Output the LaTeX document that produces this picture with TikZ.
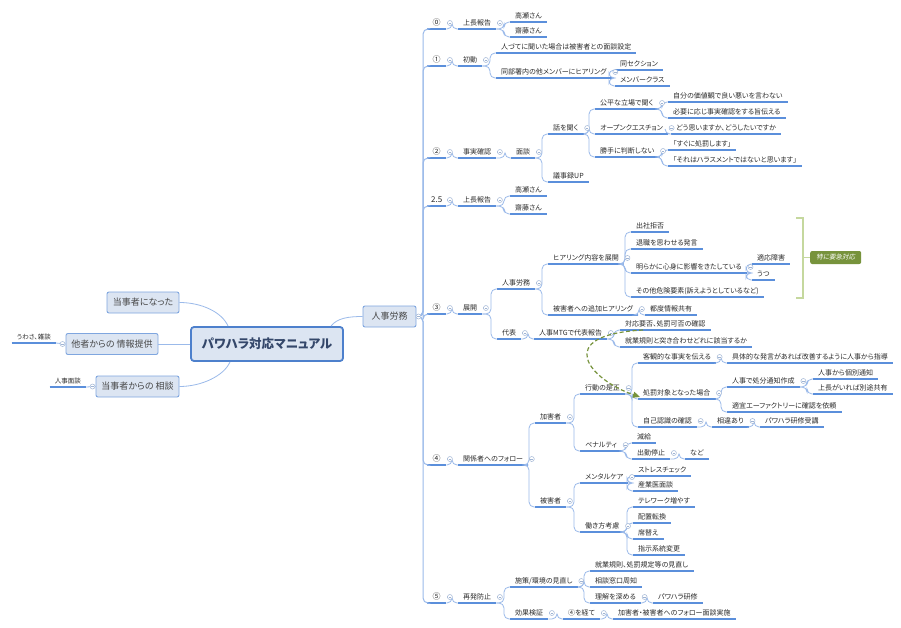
\documentclass[tikz,border=0pt]{standalone}
\usepackage{fontspec}
\setmainfont{Noto Sans CJK JP}[RawFeature=+palt]
\newfontfamily\tagfont{Noto Sans CJK JP}[RawFeature=+palt,FakeSlant=0.2]
\usetikzlibrary{arrows.meta,positioning}
\definecolor{ink}{HTML}{2B2B2B}
\definecolor{uline}{HTML}{5B8FDB}
\definecolor{twig}{HTML}{9BBAEA}
\definecolor{boxfill}{HTML}{DCE5F2}
\definecolor{boxline}{HTML}{7FA6DF}
\definecolor{rootline}{HTML}{4D80CC}
\definecolor{rootink}{HTML}{34476A}
\definecolor{knob}{HTML}{9FB4D4}
\definecolor{sage}{HTML}{C5D89E}
\definecolor{olive}{HTML}{77933C}
\newcommand\mkbar{\textcolor{knob}{\rule{2.6pt}{0.5pt}}}
\begin{document}
\begin{tikzpicture}[x=1pt,y=-1pt,font=\fontsize{7}{8}\selectfont,text=ink,
    t/.style={anchor=south west,inner xsep=5pt,inner ysep=2.8pt,text height=6.2pt,text depth=0.85pt,
      append after command={(\tikzlastnode.south west) edge[draw=uline,line width=1.3pt] (\tikzlastnode.south east)}},
    num/.style={t,minimum width=19pt,inner xsep=3pt,font=\fontsize{8}{9}\selectfont,text height=6.8pt,text depth=0.9pt,inner ysep=2.4pt},
    side/.style={t,anchor=south east,font=\fontsize{6.5}{7}\selectfont,text height=5.7pt,text depth=0.8pt},
    box/.style={draw=boxline,fill=boxfill,line width=0.9pt,rounded corners=2pt,minimum height=21pt,
      inner sep=0pt,font=\fontsize{9}{10}\selectfont,text=black!72},
    root/.style={box,draw=rootline,line width=1.8pt,rounded corners=3pt,minimum width=152pt,minimum height=34pt,
      font=\bfseries\fontsize{12.5}{14}\selectfont,text=rootink},
    br/.style={draw=twig,line width=0.8pt,rounded corners=5pt},
    mk/.style={circle,draw=knob,fill=white,line width=0.5pt,inner sep=0pt,minimum size=5pt},
    tag/.style={fill=olive,rounded corners=2pt,text=white,font=\tagfont\fontsize{6.5}{7}\selectfont,
      minimum width=51pt,minimum height=13pt,inner sep=0pt},
    rel/.style={draw=olive,line width=1.2pt,dash pattern=on 4pt off 2.5pt,-{Triangle[length=7pt,width=6pt]}}]
  \path[use as bounding box,fill=white] (0,0) rectangle (901,628);

  \node[root] (root) at (267,344) {パワハラ対応マニュアル};
  \node[box,minimum width=72pt] (b1) at (143,302.5) {当事者になった};
  \node[box,minimum width=92pt] (b2) at (112,344) {他者からの 情報提供};
  \node[box,minimum width=83pt] (b3) at (137.5,386.5) {当事者からの 相談};
  \node[box,minimum width=53pt] (hr) at (389.5,316.5) {人事労務};
  \node[side] (l1) at (56,343) {うわさ、雑談};
  \node[side] (l2) at (86,387) {人事面談};

  \node[num] (n0) at (427,29) {⓪};
  \node[t] (n0a) at (458,29) {上長報告};
  \node[t] (n0a1) at (510,22) {高瀬さん};
  \node[t] (n0a2) at (510,37) {齋藤さん};

  \node[num] (n1) at (427,66) {①};
  \node[t] (n1a) at (458,66) {初動};
  \node[t] (n1a1) at (496,53) {人づてに聞いた場合は被害者との面談設定};
  \node[t] (n1a2) at (496,78) {同部署内の他メンバーにヒアリング};
  \node[t] (n1a2a) at (615,70) {同セクション};
  \node[t] (n1a2b) at (615,86) {メンバークラス};

  \node[num] (n2) at (427,158) {②};
  \node[t] (n2a) at (458,158) {事実確認};
  \node[t] (n2b) at (511,158) {面談};
  \node[t] (n2c) at (548,134) {話を聞く};
  \node[t] (n2d) at (548,182) {議事録UP};
  \node[t] (n2c1) at (595,109) {公平な立場で聞く};
  \node[t] (n2c2) at (595,134) {オープンクエスチョン};
  \node[t] (n2c3) at (595,157) {勝手に判断しない};
  \node[t] (n2c1a) at (668,102) {自分の価値観で良い悪いを言わない};
  \node[t] (n2c1b) at (668,118) {必要に応じ事実確認をする旨伝える};
  \node[t] (n2c2a) at (671,134) {どう思いますか、どうしたいですか};
  \node[t] (n2c3a) at (668,150) {「すぐに処罰します」};
  \node[t] (n2c3b) at (668,166) {「それはハラスメントではないと思います」};

  \node[num] (n25) at (427,206) {2.5};
  \node[t] (n25a) at (458,206) {上長報告};
  \node[t] (n25a1) at (510,196) {高瀬さん};
  \node[t] (n25a2) at (510,214) {齋藤さん};

  \node[num] (n3) at (427,314) {③};
  \node[t] (n3a) at (458,314) {展開};
  \node[t] (n3b) at (497,289) {人事労務};
  \node[t] (n3c) at (497,339) {代表};
  \node[t] (n3b1) at (548,264) {ヒアリング内容を展開};
  \node[t] (n3b2) at (548,315) {被害者への追加ヒアリング};
  \node[t] (n3b2a) at (645,315) {都度情報共有};
  \node[t] (h1) at (631,232) {出社拒否};
  \node[t] (h2) at (631,249) {退職を思わせる発言};
  \node[t] (h3) at (631,273) {明らかに心身に影響をきたしている};
  \node[t] (h4) at (631,297) {その他危険要素(訴えようとしているなど)};
  \node[t] (h3a) at (752,264) {適応障害};
  \node[t] (h3b) at (752,280) {うつ};
  \node[t] (n3c1) at (534,339) {人事MTGで代表報告};
  \node[t] (n3c1a) at (620,330) {対応要否、処罰可否の確認};
  \node[t] (n3c1b) at (620,347) {就業規則と突き合わせどれに該当するか};

  \node[num] (n4) at (427,465) {④};
  \node[t] (n4a) at (458,465) {関係者へのフォロー};
  \node[t] (k) at (535,423) {加害者};
  \node[t] (v) at (535,507) {被害者};
  \node[t] (k1) at (580,394) {行動の是正};
  \node[t] (k2) at (580,451) {ペナルティ};
  \node[t] (k1a) at (638,363) {客観的な事実を伝える};
  \node[t] (k1b) at (638,399) {処罰対象となった場合};
  \node[t] (k1c) at (638,427) {自己認識の確認};
  \node[t] (k1a1) at (727,363) {具体的な発言があれば改善するように人事から指導};
  \node[t] (k1b1) at (727,387) {人事で処分通知作成};
  \node[t] (k1b2) at (727,412) {適宜エーファクトリーに確認を依頼};
  \node[t] (k1b1a) at (813,379) {人事から個別通知};
  \node[t] (k1b1b) at (813,394) {上長がいれば別途共有};
  \node[t] (k1c1) at (712,427) {相違あり};
  \node[t] (k1c1a) at (760,427) {パワハラ研修受講};
  \node[t] (k2a) at (632,443) {減給};
  \node[t] (k2b) at (632,459) {出勤停止};
  \node[t] (k2b1) at (685,459) {など};
  \node[t] (v1) at (580,483) {メンタルケア};
  \node[t] (v2) at (580,532) {働き方考慮};
  \node[t] (v1a) at (633,476) {ストレスチェック};
  \node[t] (v1b) at (633,491) {産業医面談};
  \node[t] (v2a) at (633,507) {テレワーク増やす};
  \node[t] (v2b) at (633,523) {配置転換};
  \node[t] (v2c) at (633,539) {席替え};
  \node[t] (v2d) at (633,555) {指示系統変更};

  \node[num] (n5) at (427,603) {⑤};
  \node[t] (n5a) at (458,603) {再発防止};
  \node[t] (n5b) at (510,587) {施策/環境の見直し};
  \node[t] (n5c) at (510,619) {効果検証};
  \node[t] (n5b1) at (590,571) {就業規則、処罰規定等の見直し};
  \node[t] (n5b2) at (590,587) {相談窓口周知};
  \node[t] (n5b3) at (590,603) {理解を深める};
  \node[t] (n5b3a) at (653,603) {パワハラ研修};
  \node[t] (n5c1) at (563,619) {④を経て};
  \node[t] (n5c1a) at (613,619) {加害者・被害者へのフォロー面談実施};

  \draw[br] ([xshift=-39pt]root.north) .. controls +(-6,-14) and +(22,0) .. (b1.east);
  \draw[br] (root.west) -- (b2.east);
  \draw[br] ([xshift=-37pt]root.south) .. controls +(-6,14) and +(22,0) .. (b3.east);
  \draw[br] ([xshift=64pt]root.north) .. controls +(6,-8) and +(-14,0) .. (hr.west);
  \draw[br] (l1.south east) -- (b2.west);
  \draw[br] (l2.south east) -- (b3.west);
  \foreach \b in {n0,n1,n2,n25,n3,n4,n5}
    \draw[br,line width=1pt] (hr.east) -| ([xshift=-4pt]\b.south west) -- (\b.south west);
  \foreach \a/\b in {n0/n0a,n0a/n0a1,n0a/n0a2,
      n1/n1a,n1a/n1a1,n1a/n1a2,n1a2/n1a2a,n1a2/n1a2b,
      n2/n2a,n2a/n2b,n2b/n2c,n2b/n2d,n2c/n2c1,n2c/n2c2,n2c/n2c3,n2c1/n2c1a,n2c1/n2c1b,n2c2/n2c2a,n2c3/n2c3a,n2c3/n2c3b,
      n25/n25a,n25a/n25a1,n25a/n25a2,
      n3/n3a,n3a/n3b,n3a/n3c,n3b/n3b1,n3b/n3b2,n3b1/h1,n3b1/h2,n3b1/h3,n3b1/h4,h3/h3a,h3/h3b,n3b2/n3b2a,
      n3c/n3c1,n3c1/n3c1a,n3c1/n3c1b,
      n4/n4a,n4a/k,n4a/v,k/k1,k/k2,k1/k1a,k1/k1b,k1/k1c,k1a/k1a1,k1b/k1b1,k1b/k1b2,k1b1/k1b1a,k1b1/k1b1b,
      k1c/k1c1,k1c1/k1c1a,k2/k2a,k2/k2b,k2b/k2b1,v/v1,v/v2,v1/v1a,v1/v1b,v2/v2a,v2/v2b,v2/v2c,v2/v2d,
      n5/n5a,n5a/n5b,n5a/n5c,n5b/n5b1,n5b/n5b2,n5b/n5b3,n5b3/n5b3a,n5c/n5c1,n5c1/n5c1a}{
    \draw[br] (\a.south east) -| ([xshift=-6pt]\b.south west) -- (\b.south west);}

  \foreach \p in {n0,n0a,n1,n1a,n1a2,n2,n2a,n2b,n2c,n2c1,n2c2,n2c3,n25,n25a,n3,n3a,n3b,n3c,n3b1,n3b2,h3,n3c1,
      n4,n4a,k,v,k1,k2,k1a,k1b,k1c,k1b1,k1c1,k2b,v1,v2,n5,n5a,n5b,n5c,n5b3,n5c1}
    \node[mk] (m-\p) at ([shift={(3.5pt,6pt)}]\p.south east) {\mkbar};
  \node[mk] (m-hr) at ([xshift=2pt]hr.east) {\mkbar};
  \node[mk] (m-b2) at ([xshift=-3pt]b2.west) {\mkbar};
  \node[mk] (m-b3) at ([xshift=-3pt]b3.west) {\mkbar};

  \coordinate (bm) at (803,257.5);
  \draw[sage,line width=1.8pt] (796,218) -- (803,218) -- (803,298) -- (796,298);
  \node[tag,right=7pt of bm] (tg) {特に要急対応};
  \draw[sage,line width=1.8pt] (bm) -- (tg);

  \draw[rel] ([xshift=23pt]n3c1a.south west) .. controls (551,335) and (590,380) .. ([shift={(2pt,2pt)}]k1b.south west);
\end{tikzpicture}
\end{document}
